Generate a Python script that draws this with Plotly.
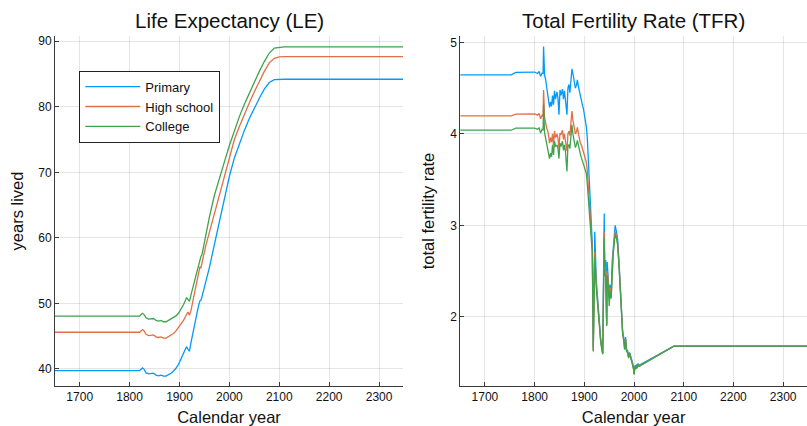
import plotly.graph_objects as go
from plotly.subplots import make_subplots

# ---- Life expectancy by education level ----
le_years = [1650, 1820, 1823, 1826, 1829, 1833, 1838, 1843, 1848, 1853, 1858, 1863,
            1868, 1873, 1878, 1883, 1888, 1893, 1898, 1903, 1908, 1912, 1914, 1917,
            1920, 1923, 1928, 1933, 1938, 1941, 1943, 1945, 1948, 1953, 1960, 1970,
            1980, 1990, 2000, 2010, 2020, 2030, 2040, 2050, 2060, 2070, 2080, 2090,
            2100, 2110, 2350]
le_primary = [39.75, 39.75, 39.95, 40.15, 39.95, 39.4, 39.25, 39.25, 39.35, 39.05, 38.95, 39.05,
              38.9, 38.9, 39.1, 39.35, 39.7, 40.1, 40.7, 41.6, 42.5, 43.3, 43.4, 43.0,
              42.7, 44.0, 46.0, 47.7, 49.6, 50.4, 50.5, 51.0, 51.9, 53.1, 55.5, 59.0,
              62.4, 66.0, 69.4, 72.2, 74.4, 76.4, 78.2, 79.8, 81.3, 82.7, 83.7, 84.15,
              84.2, 84.2, 84.2]
le_high = [45.6, 45.6, 45.8, 46.0, 45.8, 45.3, 45.1, 45.1, 45.2, 44.9, 44.8, 44.9,
           44.7, 44.7, 44.9, 45.1, 45.4, 45.8, 46.3, 46.9, 47.4, 48.0, 48.4, 48.7,
           48.2, 48.9, 50.8, 52.6, 54.6, 55.6, 55.4, 56.0, 57.2, 58.9, 60.9, 63.8,
           66.7, 69.6, 72.3, 75.0, 77.0, 78.9, 80.6, 82.3, 83.9, 85.4, 86.7, 87.4,
           87.6, 87.65, 87.65]
le_college = [48.05, 48.05, 48.3, 48.5, 48.3, 47.8, 47.6, 47.6, 47.7, 47.4, 47.3, 47.4,
              47.2, 47.2, 47.4, 47.6, 47.8, 48.1, 48.5, 49.1, 49.8, 50.5, 50.9, 50.6,
              50.3, 51.3, 52.8, 54.2, 55.6, 56.6, 57.2, 57.4, 58.6, 60.8, 63.2, 66.5,
              69.2, 71.6, 74.1, 76.4, 78.5, 80.4, 82.1, 83.8, 85.4, 86.9, 88.2, 88.95,
              89.1, 89.15, 89.15]

# ---- Total fertility rate by education level ----
tfr_years = [1650, 1753, 1762, 1800, 1806, 1809, 1812, 1815, 1817, 1818, 1820, 1822,
             1824, 1827, 1830, 1832, 1834, 1836, 1838, 1840, 1842, 1845, 1847, 1849,
             1851, 1853, 1856, 1858, 1860, 1862, 1865, 1867, 1869, 1871, 1873, 1875,
             1877, 1880, 1882, 1884, 1886, 1888, 1890, 1892, 1894, 1896, 1898, 1900,
             1902, 1904, 1906, 1908, 1910, 1912, 1914, 1916, 1918, 1921, 1924, 1927,
             1930, 1933, 1935, 1937, 1940, 1941, 1943, 1944, 1945, 1946, 1948, 1950,
             1952, 1954, 1956, 1958, 1960, 1962, 1965, 1967, 1970, 1973, 1975, 1977,
             1980, 1981, 1983, 1985, 1987, 1989, 1991, 1993, 1995, 1997, 1999, 2000,
             2002, 2004, 2005, 2006, 2008, 2010, 2080, 2350]
tfr_primary = [4.646, 4.646, 4.672, 4.676, 4.660, 4.682, 4.628, 4.665, 4.660, 4.956, 4.640, 4.600,
               4.520, 4.400, 4.290, 4.350, 4.300, 4.420, 4.320, 4.470, 4.380, 4.460, 4.390, 4.210,
               4.480, 4.420, 4.490, 4.380, 4.470, 4.370, 4.210, 4.500, 4.540, 4.450, 4.610, 4.710,
               4.660, 4.570, 4.500, 4.530, 4.590, 4.520, 4.460, 4.420, 4.380, 4.320, 4.280, 4.210,
               4.150, 4.080, 3.950, 3.750, 3.500, 3.300, 3.000, 2.800, 1.650, 2.930, 2.400, 2.150,
               1.890, 1.750, 1.680, 1.600, 3.130, 2.550, 2.620, 2.300, 1.920, 2.600, 2.450, 2.250,
               2.350, 2.250, 2.600, 2.750, 2.850, 3.000, 2.920, 2.850, 2.580, 2.220, 2.000, 1.850,
               1.740, 1.660, 1.780, 1.640, 1.630, 1.570, 1.610, 1.580, 1.530, 1.500, 1.440, 1.380,
               1.470, 1.440, 1.480, 1.450, 1.490, 1.470, 1.680, 1.680]
tfr_high = [4.197, 4.197, 4.215, 4.218, 4.205, 4.222, 4.165, 4.205, 4.200, 4.480, 4.180, 4.120,
            4.070, 4.020, 3.900, 3.960, 3.910, 4.000, 3.880, 4.030, 3.960, 4.000, 3.950, 3.840,
            4.010, 3.990, 4.040, 3.940, 4.000, 3.920, 3.810, 4.000, 4.030, 3.980, 4.100, 4.250,
            4.150, 4.060, 4.000, 4.020, 4.070, 4.010, 3.950, 3.900, 3.880, 3.840, 3.800, 3.770,
            3.730, 3.690, 3.600, 3.450, 3.250, 3.100, 2.900, 2.750, 1.630, 2.710, 2.350, 2.120,
            1.870, 1.730, 1.660, 1.600, 2.930, 2.500, 2.500, 2.250, 1.910, 2.500, 2.400, 2.200,
            2.320, 2.220, 2.580, 2.700, 2.820, 2.930, 2.880, 2.800, 2.550, 2.200, 1.980, 1.830,
            1.720, 1.650, 1.760, 1.630, 1.620, 1.560, 1.600, 1.570, 1.520, 1.490, 1.430, 1.370,
            1.460, 1.430, 1.470, 1.440, 1.480, 1.460, 1.680, 1.680]
tfr_college = [4.040, 4.040, 4.062, 4.064, 4.050, 4.066, 4.010, 4.050, 4.045, 4.320, 4.010, 3.960,
               3.900, 3.820, 3.730, 3.790, 3.750, 3.880, 3.770, 3.920, 3.860, 3.880, 3.840, 3.730,
               3.900, 3.860, 3.920, 3.820, 3.880, 3.810, 3.590, 3.870, 3.880, 3.840, 3.950, 4.100,
               4.000, 3.920, 3.850, 3.880, 3.930, 3.880, 3.810, 3.780, 3.740, 3.700, 3.660, 3.620,
               3.600, 3.570, 3.450, 3.330, 3.150, 3.000, 2.850, 2.700, 1.620, 2.650, 2.320, 2.100,
               1.860, 1.720, 1.650, 1.590, 2.870, 2.450, 2.450, 2.000, 1.900, 2.450, 2.350, 2.120,
               2.280, 2.200, 2.550, 2.680, 2.800, 2.900, 2.850, 2.780, 2.530, 2.180, 1.970, 1.820,
               1.710, 1.640, 1.750, 1.620, 1.610, 1.550, 1.600, 1.560, 1.520, 1.490, 1.430, 1.370,
               1.460, 1.430, 1.470, 1.440, 1.480, 1.460, 1.680, 1.680]

series_names = ["Primary", "High school", "College"]
series_colors = ["#009AF9", "#E26F46", "#3DA44D"]
year_ticks = [1700, 1800, 1900, 2000, 2100, 2200, 2300]
le_ticks = [40, 50, 60, 70, 80, 90]
tfr_ticks = [2, 3, 4, 5]

FONT = "Liberation Sans, Arial, Helvetica, sans-serif"
AXIS_COLOR = "#3a3a3a"
GRID_COLOR = "rgba(0,0,0,0.10)"

fig = make_subplots(rows=1, cols=2)

for name, color, ys in zip(series_names, series_colors, [le_primary, le_high, le_college]):
    fig.add_trace(go.Scatter(x=le_years, y=ys, mode="lines", name=name,
                             line=dict(color=color, width=1.3)),
                  row=1, col=1)

for name, color, ys in zip(series_names, series_colors, [tfr_primary, tfr_high, tfr_college]):
    fig.add_trace(go.Scatter(x=tfr_years, y=ys, mode="lines", name=name,
                             line=dict(color=color, width=1.3), showlegend=False),
                  row=1, col=2)

common_axis = dict(
    showline=True, linecolor=AXIS_COLOR, linewidth=1, mirror=False,
    ticks="inside", ticklen=4, tickwidth=1, tickcolor=AXIS_COLOR,
    showgrid=True, gridcolor=GRID_COLOR, gridwidth=1, zeroline=False,
    tickfont=dict(family=FONT, size=12, color="#111"),
)

fig.update_xaxes(range=[1650.5, 2348], tickvals=year_ticks,
                 title=dict(text="Calendar year", font=dict(family=FONT, size=16.5, color="#111"),
                            standoff=8),
                 **common_axis)
fig.update_yaxes(**common_axis)

fig.update_layout(
    xaxis=dict(domain=[0.0, 0.4628]),
    xaxis2=dict(domain=[0.539, 1.0]),
    yaxis=dict(range=[37.4, 90.8], tickvals=le_ticks,
               title=dict(text="years lived", font=dict(family=FONT, size=16.5, color="#111"),
                          standoff=10)),
    yaxis2=dict(range=[1.244, 5.07], tickvals=tfr_ticks,
                title=dict(text="total fertility rate", font=dict(family=FONT, size=16.5, color="#111"),
                           standoff=11)),
    width=807, height=426,
    margin=dict(l=55, r=0, t=36, b=40),
    paper_bgcolor="white", plot_bgcolor="white",
    font=dict(family=FONT, color="#111"),
    showlegend=True,
    legend=dict(x=0.0323, y=0.901, xanchor="left", yanchor="top",
                bgcolor="white", bordercolor="#222", borderwidth=1,
                font=dict(family=FONT, size=13, color="#111"),
                itemwidth=55, tracegroupgap=0),
    annotations=[
        dict(text="Life Expectancy (LE)", x=0.2314, y=1.0457, xref="paper", yref="paper",
             xanchor="center", yanchor="middle", showarrow=False,
             font=dict(family=FONT, size=20.5, color="#111")),
        dict(text="Total Fertility Rate (TFR)", x=0.7695, y=1.0457, xref="paper", yref="paper",
             xanchor="center", yanchor="middle", showarrow=False,
             font=dict(family=FONT, size=20.5, color="#111")),
    ],
)

fig.write_html("out.html")
